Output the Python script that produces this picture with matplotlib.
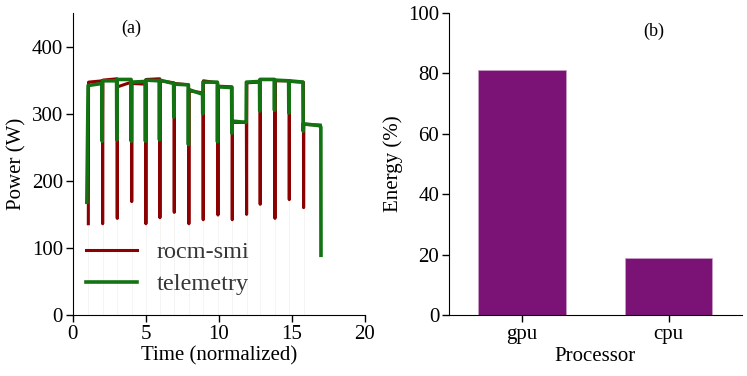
import numpy as np
import matplotlib
matplotlib.use("Agg")
import matplotlib.pyplot as plt

plt.rcParams['font.family'] = ['Liberation Serif', 'DejaVu Serif']

# --- (a) power trace: 16 runs, drops between runs ---
drop_t = [1.07, 2.05, 3.05, 4.04, 5.01, 5.97, 6.95, 7.95,
          8.93, 9.94, 10.92, 11.90, 12.83, 13.84, 14.82, 15.80]
end_t = 16.95

# rocm-smi: drop bottoms and plateau start/end per run
smi_bottom = [136, 136, 144, 169, 136, 145, 153, 136,
              142, 149, 142, 150, 165, 144, 172, 160]
smi_start = [347, 350, 340, 345, 351, 349, 345, 334,
             349, 341, 287, 346, 351, 349, 348, 284]
smi_end = [349, 352, 347, 344, 352, 346, 343, 331,
           346, 340, 287, 347, 351, 349, 347, 283]

# telemetry: start value, drop bottoms and plateau levels
tel_first = 168
tel_bottom = [168, 259, 261, 259, 259, 261, 295, 254,
              300, 258, 271, 287, 304, 305, 301, 274]
tel_start = [342, 349, 351, 347, 350, 350, 344, 336,
             347, 340, 289, 347, 351, 350, 349, 285]
tel_end = [345, 349, 351, 348, 349, 345, 343, 329,
           347, 339, 287, 348, 351, 349, 347, 282]
tel_final = 89
tel_shift = 0.03

# --- (b) energy share ---
processors = ['gpu', 'cpu']
energy_pct = [81.2, 18.8]


def build_trace(times, bottoms, starts, ends, t_end, shift=0.0):
    xs, ys = [], []
    n = len(times)
    for i in range(n):
        t0 = times[i] - shift
        t1 = (times[i + 1] - shift) if i + 1 < n else t_end
        xs += [t0, t0 + 0.015, t1 - 0.015]
        ys += [bottoms[i], starts[i], ends[i]]
    return np.array(xs), np.array(ys)


fig = plt.figure(figsize=(7.47, 3.76), dpi=100)
ax1 = fig.add_axes([0.0973, 0.1622, 0.3913, 0.8032])
ax2 = fig.add_axes([0.6011, 0.1622, 0.3918, 0.8032])

red = '#8b0000'
green = '#137313'

# faint guide lines under each drop
ax1.vlines(drop_t, 0, smi_bottom, color='#f6f3f3', linewidth=0.7, zorder=1)

rx, ry = build_trace(drop_t, smi_bottom, smi_start, smi_end, end_t)
ax1.plot(rx, ry, color=red, linewidth=2.2, label='rocm-smi', zorder=3)

gx, gy = build_trace(drop_t, tel_bottom, tel_start, tel_end, 16.95, tel_shift)
gx[0] = drop_t[0] - 0.10
gy[0] = tel_first
gx = np.append(gx, [16.98, 16.99])
gy = np.append(gy, [280, tel_final])
ax1.plot(gx, gy, color=green, linewidth=2.6, label='telemetry', zorder=4)

ax1.set_xlim(0, 20)
ax1.set_ylim(0, 450)
ax1.set_xticks([0, 5, 10, 15, 20])
ax1.set_yticks([0, 100, 200, 300, 400])
ax1.set_xlabel('Time (normalized)', fontsize=15, labelpad=2)
ax1.set_ylabel('Power (W)', fontsize=15, labelpad=4)
ax1.text(0.20, 0.95, '(a)', transform=ax1.transAxes, fontsize=13,
         ha='center', va='center')
leg = ax1.legend(loc='lower left', bbox_to_anchor=(0.045, 0.065),
                 frameon=False, fontsize=17.5, handlelength=2.1,
                 handletextpad=0.8, labelspacing=0.42, borderpad=0,
                 borderaxespad=0)
for t in leg.get_texts():
    t.set_color('#363636')

ax2.bar(range(len(processors)), energy_pct, width=0.6, color='#7b1275',
        edgecolor='#c8a2c8', linewidth=0.5)
ax2.set_xlim(-0.5, 1.5)
ax2.set_ylim(0, 100)
ax2.set_xticks(range(len(processors)))
ax2.set_xticklabels(processors)
ax2.set_yticks([0, 20, 40, 60, 80, 100])
ax2.set_xlabel('Processor', fontsize=15, labelpad=2)
ax2.set_ylabel('Energy (%)', fontsize=15, labelpad=4)
ax2.text(0.70, 0.94, '(b)', transform=ax2.transAxes, fontsize=13,
         ha='center', va='center')

for ax in (ax1, ax2):
    ax.spines['top'].set_visible(False)
    ax.spines['right'].set_visible(False)
    ax.tick_params(labelsize=15, length=5, width=1, direction='out', pad=2)

fig.savefig('out.png', dpi=100)
